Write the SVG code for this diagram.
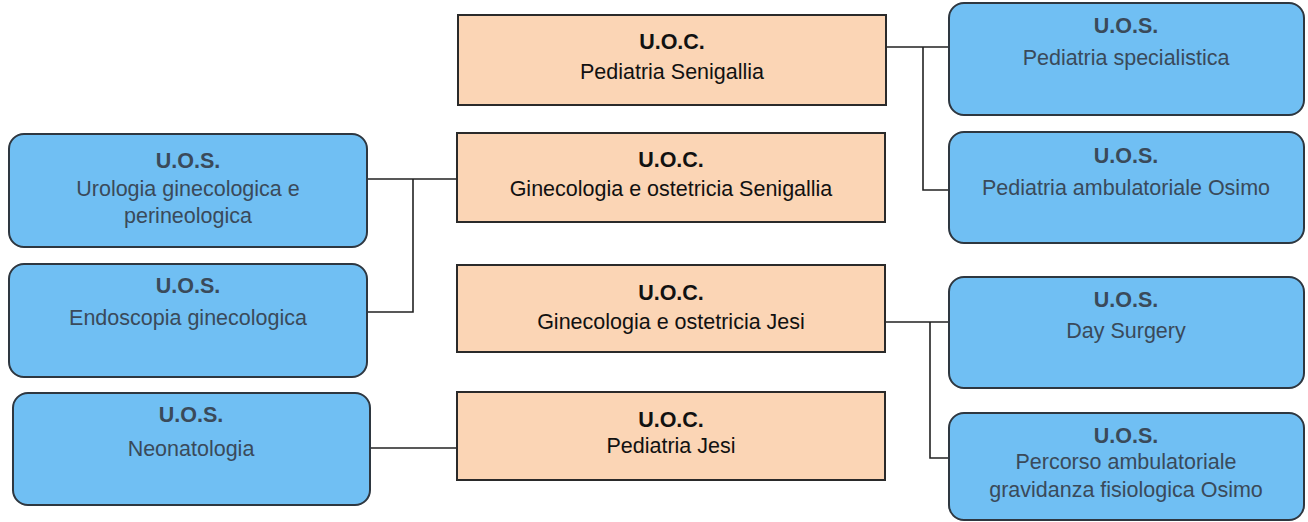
<svg xmlns="http://www.w3.org/2000/svg" width="1308" height="522" viewBox="0 0 1308 522">
<style>
.uoc{fill:#fbd5b5;stroke:#2a2a2a;stroke-width:2}
.uos{fill:#70bff3;stroke:#2e3740;stroke-width:2}
.t{font-family:"Liberation Sans",Arial,sans-serif;font-size:21.5px;text-anchor:middle}
.b{font-weight:bold}
.tc{fill:#111}
.ts{fill:#3a4a5a}
.c{fill:none;stroke:#222;stroke-width:1.6}
</style>
<rect width="1308" height="522" fill="#ffffff"/>
<g id="connectors">
<path class="c" d="M886 47H949M923 47V190H949"/>
<path class="c" d="M367 179H457M413 179V312H367"/>
<path class="c" d="M885 322H949M930 322V458H949"/>
<path class="c" d="M370 448H457"/>
</g>
<g id="uoc-pediatria-senigallia">
<rect class="uoc" x="458" y="15" width="428" height="90"/>
<text class="t b tc" x="672" y="49">U.O.C.</text>
<text class="t tc" x="672" y="79">Pediatria Senigallia</text>
</g>
<g id="uoc-ginecologia-senigallia">
<rect class="uoc" x="457" y="133" width="428" height="89"/>
<text class="t b tc" x="671" y="167">U.O.C.</text>
<text class="t tc" x="671" y="196">Ginecologia e ostetricia Senigallia</text>
</g>
<g id="uoc-ginecologia-jesi">
<rect class="uoc" x="457" y="265" width="428" height="87"/>
<text class="t b tc" x="671" y="300">U.O.C.</text>
<text class="t tc" x="671" y="329">Ginecologia e ostetricia Jesi</text>
</g>
<g id="uoc-pediatria-jesi">
<rect class="uoc" x="457" y="392" width="428" height="88"/>
<text class="t b tc" x="671" y="427">U.O.C.</text>
<text class="t tc" x="671" y="453">Pediatria Jesi</text>
</g>
<g id="uos-urologia">
<rect class="uos" x="9" y="134" width="358" height="113" rx="15"/>
<text class="t b ts" x="188" y="168">U.O.S.</text>
<text class="t ts" x="188" y="196">Urologia ginecologica e</text>
<text class="t ts" x="188" y="223">perineologica</text>
</g>
<g id="uos-endoscopia">
<rect class="uos" x="9" y="264" width="358" height="113" rx="15"/>
<text class="t b ts" x="188" y="293">U.O.S.</text>
<text class="t ts" x="188" y="325">Endoscopia ginecologica</text>
</g>
<g id="uos-neonatologia">
<rect class="uos" x="13" y="393" width="357" height="112" rx="15"/>
<text class="t b ts" x="191" y="422">U.O.S.</text>
<text class="t ts" x="191" y="456">Neonatologia</text>
</g>
<g id="uos-pediatria-specialistica">
<rect class="uos" x="949" y="3" width="355" height="112" rx="15"/>
<text class="t b ts" x="1126" y="33">U.O.S.</text>
<text class="t ts" x="1126" y="65">Pediatria specialistica</text>
</g>
<g id="uos-pediatria-ambulatoriale">
<rect class="uos" x="949" y="132" width="355" height="111" rx="15"/>
<text class="t b ts" x="1126" y="163">U.O.S.</text>
<text class="t ts" x="1126" y="195">Pediatria ambulatoriale Osimo</text>
</g>
<g id="uos-day-surgery">
<rect class="uos" x="949" y="277" width="355" height="111" rx="15"/>
<text class="t b ts" x="1126" y="307">U.O.S.</text>
<text class="t ts" x="1126" y="338">Day Surgery</text>
</g>
<g id="uos-percorso">
<rect class="uos" x="949" y="413" width="355" height="107" rx="15"/>
<text class="t b ts" x="1126" y="443">U.O.S.</text>
<text class="t ts" x="1126" y="469">Percorso ambulatoriale</text>
<text class="t ts" x="1126" y="497">gravidanza fisiologica Osimo</text>
</g>
</svg>
